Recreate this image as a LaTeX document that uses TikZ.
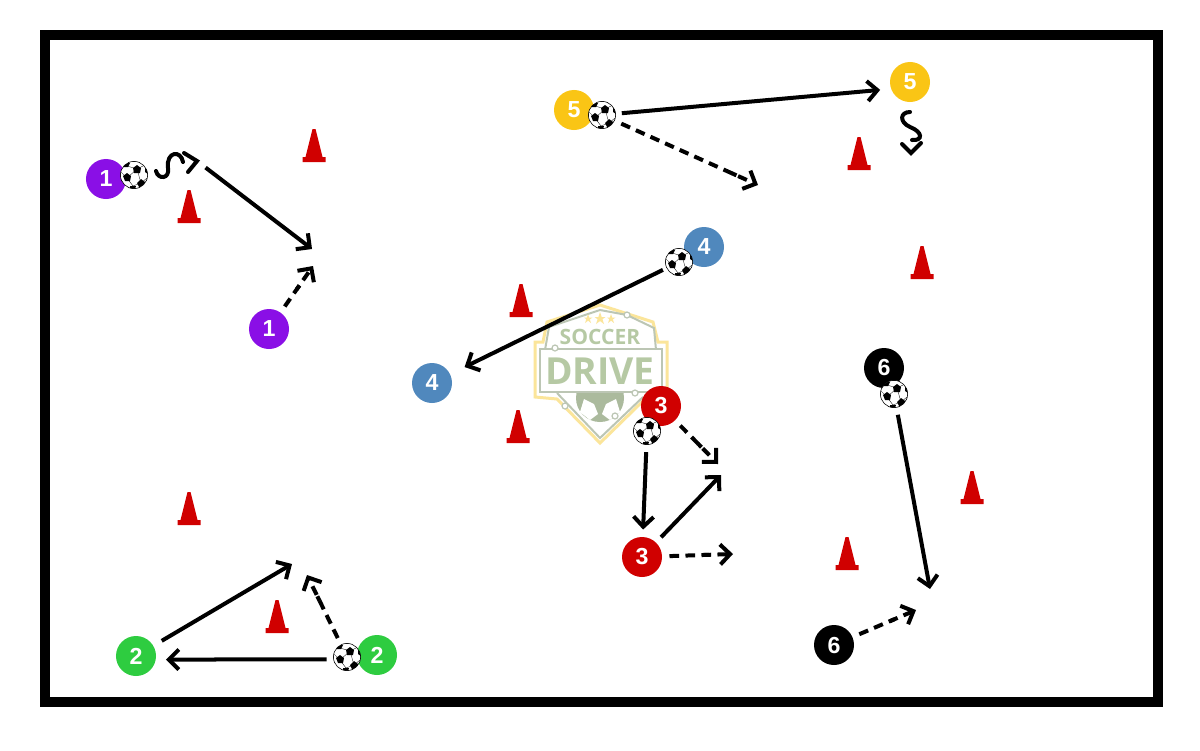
\documentclass[tikz,border=0pt]{standalone}
\usepackage{fontspec}
\setmainfont{Liberation Sans}
\newfontfamily\logofont{Open Sans}
\usetikzlibrary{arrows.meta}
\definecolor{violet1}{HTML}{8A0FE6}
\definecolor{green2}{HTML}{2ECC40}
\definecolor{red3}{HTML}{D00000}
\definecolor{blue4}{HTML}{5088BD}
\definecolor{yellow5}{HTML}{FAC515}
\definecolor{logogreen}{HTML}{B6C9A4}
\definecolor{logogrey}{HTML}{BCC6B4}
\definecolor{logoyellow}{HTML}{FBE59A}
\newcommand{\ballpatches}{%
  \begin{scope}[shift={(path picture bounding box.center)}]
    \draw[black, line width=0.08mm] (3,-6) -- (-7,3) -- (-1,11) -- (7,8) -- (3,-6) -- (-7,-9);
    \draw[black, line width=0.08mm] (-7,3) -- (-13,-3) (7,8) -- (13,3) (3,-6) -- (11,-10) (-1,11) -- (-3,15);
    \fill[black] (3,-10) -- (7,-7) -- (6,-2) -- (0,-2) -- (-1,-7) -- cycle;
    \fill[black] (-7,-2) -- (-3,1) -- (-4,6) -- (-9,6) -- (-11,1) -- cycle;
    \fill[black] (7,4) -- (11,7) -- (10,11) -- (5,12) -- (3,8) -- cycle;
    \fill[black] (-9,-12) -- (-4,-12) -- (-6,-8) -- (-11,-8) -- cycle;
    \fill[black] (11,-8) -- (14,-5) -- (14,-1) -- (11,-3) -- cycle;
    \fill[black] (-4,11) -- (2,11) -- (1,14) -- (-4,14) -- cycle;
  \end{scope}}
\begin{document}
\begin{tikzpicture}[
    x=0.025cm, y=-0.025cm,
    player/.style={circle, minimum size=10mm, inner sep=0pt, text=white, font=\fontsize{16.5}{18}\selectfont\bfseries},
    ball/.style={circle, draw=black, line width=0.15mm, fill=white, minimum size=6.8mm, inner sep=0pt, path picture={\ballpatches}},
    pass/.style={line width=1mm, line cap=butt, -{Straight Barb[length=2.5mm, width=5mm, line width=1mm]}},
    run/.style={line width=1mm, line cap=butt, dash pattern=on 2.4mm off 1.6mm, -{Butt Cap[sep=2.2mm] Straight Barb[length=2.5mm, width=5mm, line width=1mm]}},
    dribble/.style={line width=1mm, line cap=round, line join=miter},
    spot/.style={circle, draw=logogrey, fill=white, line width=0.3mm, minimum size=1.5mm, inner sep=0pt},
    logoline/.style={logogrey, line width=0.5mm},
    redcone/.pic={
      \fill[red3] (-11.5,1) -- (11.5,1) -- (11.5,-4) -- (8.5,-4) -- (1.5,-32) -- (-1.5,-32) -- (-8.5,-4) -- (-11.5,-4) -- cycle;
    }
]
\useasboundingbox (0,0) rectangle (1200,750);

% Field
\draw[line width=2.5mm, fill=white] (45,35) rectangle (1158,702);

% Logo
\draw[logoyellow, line width=0.75mm, fill=white] (600,305) -- (653,322) -- (658,342) -- (667,342) -- (667,397) -- (645,399) -- (600,443) -- (557,399) -- (535,397) -- (535,342) -- (543,342) -- (547,322) -- cycle;
\draw[logoline] (545,350) -- (549,327) -- (600,310) -- (627,315) -- (654,328) -- (656,350);
\draw[logoline] (557,393) -- (600,438) -- (643,397);
\fill[logogreen!80!gray] (600,398) circle (24);
\fill[white] (584,399) -- (594,404) -- (598,414) -- (590,420) -- (580,412) -- cycle;
\fill[white] (616,399) -- (606,404) -- (602,414) -- (610,420) -- (620,412) -- cycle;
\draw[logoline, fill=white] (540,349) rectangle (662,392);
\fill[logoyellow] (588,314) -- (591,323) -- (584,317.5) -- (592.5,317.5) -- (585,323) -- cycle;
\fill[logoyellow] (600,312) -- (604,324) -- (594.5,317) -- (605.5,317) -- (596,324) -- cycle;
\fill[logoyellow] (611,314) -- (614,323) -- (607,317.5) -- (615.5,317.5) -- (608,323) -- cycle;
\node[logogreen, font=\logofont\bfseries\fontsize{15}{17}\selectfont, inner sep=0pt] (soccer) at (600,337) {SOCCER};
\node[logogreen, font=\logofont\bfseries\fontsize{26.5}{28}\selectfont, inner sep=0pt] (drive) at (600,371) {DRIVE};
\node[spot] (s1) at (627,315) {};
\node[spot] (s2) at (555,348) {};
\node[spot] (s3) at (635,393) {};
\node[spot] (s4) at (565,406) {};
\node[spot] (s5) at (615,416) {};

% Cones
\pic at (314,161) {redcone};
\pic at (189,222) {redcone};
\pic at (521,316) {redcone};
\pic at (518,442) {redcone};
\pic at (189,524) {redcone};
\pic at (277,632) {redcone};
\pic at (859,169) {redcone};
\pic at (922,278) {redcone};
\pic at (972,503) {redcone};
\pic at (847,569) {redcone};

% Players
\node[player, fill=violet1] (p1a) at (106,179) {1};
\node[player, fill=violet1] (p1b) at (269,329) {1};
\node[player, fill=green2] (p2a) at (377,655) {2};
\node[player, fill=green2] (p2b) at (136,656) {2};
\node[player, fill=red3] (p3a) at (661,406) {3};
\node[player, fill=red3] (p3b) at (642,557) {3};
\node[player, fill=blue4] (p4a) at (704,247) {4};
\node[player, fill=blue4] (p4b) at (432,383) {4};
\node[player, fill=yellow5] (p5a) at (574,110) {5};
\node[player, fill=yellow5] (p5b) at (910,82) {5};
\node[player, fill=black] (p6a) at (884,368) {6};
\node[player, fill=black] (p6b) at (834,645) {6};

% Balls
\node[ball] (b1) at (134,175) {};
\node[ball] (b2) at (347,657) {};
\node[ball] (b3) at (647,431) {};
\node[ball] (b4) at (679,262) {};
\node[ball] (b5) at (602,115) {};
\node[ball] (b6) at (894,394) {};

% Free ends
\coordinate (c1) at (197,161);
\coordinate (c2) at (312,249);
\coordinate (c3) at (313,266);
\coordinate (c4) at (292,564);
\coordinate (c5) at (307,575);
\coordinate (c6) at (721,475);
\coordinate (c7) at (718,464);
\coordinate (c8) at (733,554);
\coordinate (c9) at (758,185);
\coordinate (c10) at (930,589);
\coordinate (c11) at (916,610);

% Dribbles
\draw[dribble] (156,171) .. controls (158,180) and (170,179) .. (168,168) .. controls (166,151) and (181,150) .. (183,162);
\draw[dribble] (184,153) -- (c1) -- (188,172);
\draw[dribble] (910,112) .. controls (900,112) and (899,122) .. (910,127) .. controls (923,132) and (923,141) .. (912,140);
\draw[dribble] (902,144) -- (911,153) -- (921,143);

% Passes
\draw[pass, shorten <=2.7mm] (c1) -- (c2);
\draw[pass, shorten <=1.7mm, shorten >=2.5mm] (b2.190) -- (p2b.-10);
\draw[pass, shorten <=2.4mm] (p2b) -- (c4);
\draw[pass, shorten <=1.8mm, shorten >=1.8mm] (b3) -- (p3b);
\draw[pass, shorten <=1.8mm] (p3b) -- (c6);
\draw[pass, shorten <=1mm, shorten >=4mm] (b4) -- (p4b);
\draw[pass, shorten <=1.5mm, shorten >=2.7mm] (b5) -- (p5b.200);
\draw[pass, shorten <=1.8mm] (b6) -- (c10);

% Runs
\draw[run, shorten <=1.8mm] (p1b) -- (c3);
\draw[run, shorten <=1.8mm] (b2) -- (c5);
\draw[run, shorten <=1.8mm] (p3a) -- (c7);
\draw[run, shorten <=1.8mm] (p3b) -- (c8);
\draw[run, shorten <=1.8mm] (b5) -- (c9);
\draw[run, shorten <=1.8mm] (p6b) -- (c11);

\end{tikzpicture}
\end{document}
